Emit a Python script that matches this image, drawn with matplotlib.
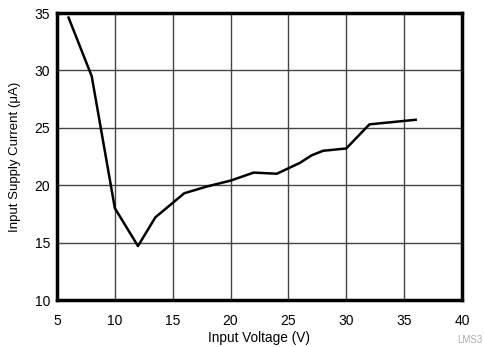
import matplotlib
matplotlib.use("Agg")
import matplotlib.pyplot as plt

plt.rcParams['font.family'] = ['Liberation Sans', 'DejaVu Sans']

# input voltage (V) vs input supply current (uA)
voltage = [6, 8, 10, 12, 13.5, 16, 18, 20, 22, 24, 26, 27, 28, 30, 32, 36]
current = [34.6, 29.5, 18.0, 14.7, 17.2, 19.3, 19.9, 20.4, 21.1, 21.0, 21.95, 22.6, 23.0, 23.2, 25.3, 25.7]

xticks = [5, 10, 15, 20, 25, 30, 35, 40]
yticks = [10, 15, 20, 25, 30, 35]

fig = plt.figure(figsize=(4.85, 3.47), dpi=100)
ax = fig.add_axes([0.1175, 0.1354, 0.835, 0.8271])

ax.plot(voltage, current, color='black', linewidth=1.8, zorder=3)

ax.set_xlim(5, 40)
ax.set_ylim(10, 35)
ax.set_xticks(xticks)
ax.set_yticks(yticks)
ax.grid(True, color='#444444', linewidth=1.0)
ax.tick_params(length=0, labelsize=10)
ax.tick_params(axis='x', pad=10)
ax.tick_params(axis='y', pad=5)
for s in ax.spines.values():
    s.set_linewidth(2.5)

ax.set_xlabel('Input Voltage (V)', fontsize=9.8, labelpad=2)
ax.set_ylabel('Input Supply Current (\u03bcA)', fontsize=9.5, labelpad=10)

fig.text(0.943, 0.005, 'LMS3', fontsize=7, color='#aaaaaa', ha='left', va='bottom')

fig.savefig('out.png', dpi=100)
